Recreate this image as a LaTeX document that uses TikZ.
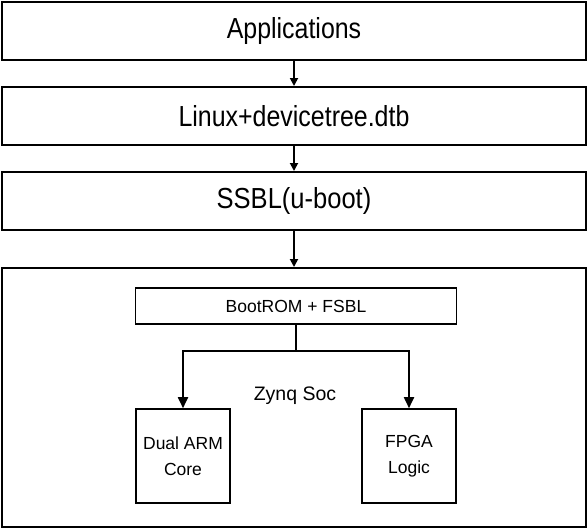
\documentclass[tikz,border=0pt]{standalone}
\usepackage{fontspec}
\setmainfont{Liberation Sans}
\usetikzlibrary{arrows.meta}
\begin{document}
\begin{tikzpicture}[x=1pt,y=-1pt,
  bigbox/.style={draw=black,line width=2pt,rectangle,inner sep=0pt,minimum width=584pt,minimum height=58pt},
  smallbox/.style={draw=black,line width=1.6pt,rectangle,inner sep=0pt,align=center,font=\fontsize{17.5}{26}\selectfont},
  bigtext/.style={font=\fontsize{29}{34}\selectfont},
  arr/.style={line width=1.8pt,-{Triangle[length=8pt,width=8pt]}},
  arrb/.style={line width=1.8pt,-{Triangle[length=11pt,width=10pt]}}]
\useasboundingbox (0,0) rectangle (588,528);
\node[bigbox,bigtext] (app) at (294,31) {\scalebox{0.86}[1]{Applications}};
\node[bigbox,bigtext] (linux) at (294,116) {\scalebox{0.86}[1]{Linux+devicetree.dtb}};
\node[bigbox,bigtext] (ssbl) at (294,201) {\scalebox{0.88}[1]{SSBL(u-boot)}};
\node[draw=black,line width=2pt,rectangle,inner sep=0pt,minimum width=584pt,minimum height=259pt] (soc) at (294,397.5) {};
\node[smallbox,minimum width=321pt,minimum height=36pt] (boot) at (296,306) {BootROM + FSBL};
\node[smallbox,minimum width=94pt,minimum height=94pt] (arm) at (183,456) {Dual ARM\\Core};
\node[smallbox,minimum width=94pt,minimum height=94pt] (fpga) at (409,456) {FPGA\\Logic};
\node[font=\fontsize{19.5}{24}\selectfont] (zynq) at (295,396) {Zynq Soc};
\coordinate (j) at (296,351);
\draw[arr] (app.south) -- (linux.north);
\draw[arr] (linux.south) -- (ssbl.north);
\draw[arr] (ssbl.south) -- (ssbl.south |- soc.north);
\draw[line width=2pt] (boot.south) -- (j);
\draw[arrb] (j) -| (arm.north);
\draw[arrb] (j) -| (fpga.north);
\end{tikzpicture}
\end{document}
